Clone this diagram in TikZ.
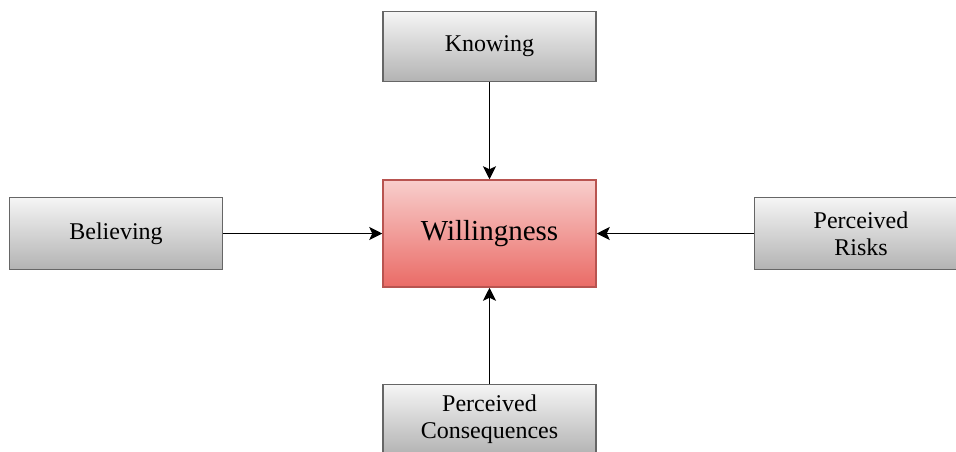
\documentclass[tikz,border=0pt]{standalone}
\usepackage{fontspec}
\setmainfont{Liberation Serif}
\usetikzlibrary{arrows.meta, positioning}

\definecolor{grayline}{HTML}{666666}
\definecolor{graytop}{HTML}{F5F5F5}
\definecolor{graybot}{HTML}{B3B3B3}
\definecolor{redline}{HTML}{B85450}
\definecolor{redtop}{HTML}{F8CECC}
\definecolor{redbot}{HTML}{EA6B66}

\begin{document}
\begin{tikzpicture}[
  x=1pt, y=-1pt,
  factor/.style={rectangle, draw=grayline, line width=1.5pt, top color=graytop, bottom color=graybot, align=center, inner sep=2pt, minimum width=213pt, minimum height=71pt, font=\fontsize{24}{27}\selectfont},
  target/.style={rectangle, draw=redline, line width=1.5pt, top color=redtop, bottom color=redbot, align=center, minimum width=213pt, minimum height=107pt, font=\fontsize{29}{33}\selectfont},
  flow/.style={-{Stealth[length=13pt, width=13pt, inset=3pt]}, line width=1.6pt}
]
\useasboundingbox (0,0) rectangle (956,451);
\clip (0,0) rectangle (956,451);

\node (will)  [target] at (489.5,233.5) {Willingness};
\node (know)  [factor, above=97pt of will, minimum height=70pt] {Knowing};
\node (belie) [factor, left=159pt of will, minimum height=72pt]  {Believing};
\node (risk)  [factor, right=157pt of will, minimum height=72pt] {Perceived\\Risks};
\node (cons)  [factor, below=96pt of will, minimum height=70pt]  {Perceived\\Consequences};

\draw [flow] (know)  -- (will);
\draw [flow] (belie) -- (will);
\draw [flow] (risk)  -- (will);
\draw [flow] (cons)  -- (will);
\end{tikzpicture}
\end{document}
